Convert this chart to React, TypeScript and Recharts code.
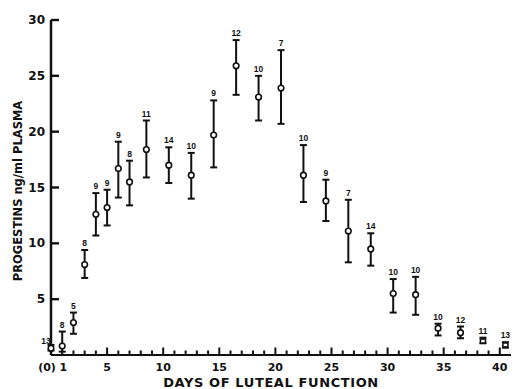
import React from 'react';
import { ScatterChart, Scatter, ErrorBar, XAxis, YAxis, Label } from 'recharts';

// plasma progestins over the luteal phase, mean with range bars and n per point
const days = [0, 1, 2, 3, 4, 5, 6, 7, 8.5, 10.5, 12.5, 14.5, 16.5, 18.5, 20.5, 22.5, 24.5, 26.5, 28.5, 30.5, 32.5, 34.5, 36.5, 38.5, 40.5];
const means = [0.6, 0.8, 2.9, 8.1, 12.6, 13.2, 16.7, 15.5, 18.4, 17.0, 16.1, 19.7, 25.9, 23.1, 23.9, 16.1, 13.8, 11.1, 9.5, 5.5, 5.4, 2.4, 2.0, 1.25, 0.9];
const uppers = [0.9, 2.1, 3.8, 9.4, 14.5, 14.8, 19.1, 17.4, 21.0, 18.6, 18.1, 22.8, 28.2, 25.0, 27.3, 18.8, 15.7, 13.9, 10.9, 6.8, 7.0, 2.8, 2.55, 1.55, 1.15];
const lowers = [0.4, 0.3, 1.9, 6.9, 10.7, 11.6, 14.1, 13.4, 15.9, 15.4, 14.0, 16.8, 23.3, 21.0, 20.7, 13.7, 12.0, 8.3, 8.0, 3.8, 3.6, 1.75, 1.5, 1.05, 0.65];
const counts = [13, 8, 5, 8, 9, 9, 9, 8, 11, 14, 10, 9, 12, 10, 7, 10, 9, 7, 14, 10, 10, 10, 12, 11, 13];

const yTicks = [5, 10, 15, 20, 25, 30];
const xTicks = Array.from({ length: 41 }, (_, i) => i);

const INK = '#111';
const FONT = '"DejaVu Sans", sans-serif';
const TICK_MARGIN = 8;

const points = days.map((d, i) => ({
  day: d,
  y: means[i],
  err: [means[i] - lowers[i], uppers[i] - means[i]],
  square: d > 38,
}));

const tops = days.map((d, i) => ({ day: d, y: uppers[i], n: counts[i] }));

// tick marks point into the plot, so they are drawn as marks sitting on the axes
const xMarks = xTicks.filter((d) => d > 0).map((d) => ({ day: d, y: 0, major: d % 5 === 0 }));
const yMarks = yTicks.map((v) => ({ day: 0, y: v }));

const XTick = (props: any) => {
  const x = Number(props.x);
  const y = Number(props.y);
  const v = props.payload.value;
  let label = '';
  if (v === 0) label = '(0)';
  else if (v === 1 || v % 5 === 0) label = String(v);
  if (!label) return <g />;
  return (
    <text
      x={v === 0 ? x - 4 : x + (v === 1 ? 1 : 0)}
      y={y - TICK_MARGIN + 12}
      textAnchor="middle"
      dominantBaseline="central"
      fontFamily={FONT}
      fontWeight="bold"
      fontSize={11}
      fill={INK}
    >
      {label}
    </text>
  );
};

const YTick = (props: any) => {
  const x = Number(props.x);
  const y = Number(props.y);
  return (
    <text
      x={x + TICK_MARGIN - 6}
      y={y}
      textAnchor="end"
      dominantBaseline="central"
      fontFamily={FONT}
      fontWeight="bold"
      fontSize={12}
      fill={INK}
    >
      {props.payload.value}
    </text>
  );
};

const XMark = (props: any) => {
  const { cx, cy, payload } = props;
  const len = payload.major ? 7.5 : 4.5;
  return <rect x={cx - 1} y={cy - len} width={2} height={len} fill={INK} />;
};

const YMark = (props: any) => {
  const { cx, cy } = props;
  return <rect x={cx} y={cy - 1.2} width={8} height={2.4} fill={INK} />;
};

const Marker = (props: any) => {
  const { cx, cy, payload } = props;
  if (payload.square) {
    return <rect x={cx - 2.5} y={cy - 2} width={5} height={4} fill="#fff" stroke={INK} strokeWidth={1.6} />;
  }
  return <circle cx={cx} cy={cy} r={2.8} fill="#fff" stroke={INK} strokeWidth={1.6} />;
};

const CountLabel = (props: any) => {
  const { cx, cy, payload } = props;
  const first = payload.day === 0;
  return (
    <text
      x={cx + (first ? -5 : 0)}
      y={cy + (first ? -1 : -4)}
      textAnchor="middle"
      fontFamily='"Liberation Sans", Arial, sans-serif'
      fontWeight="bold"
      fontSize={8.5}
      fill={INK}
    >
      {payload.n}
    </text>
  );
};

export default function App() {
  return (
    <div style={{ position: 'absolute', left: 0, top: 0, background: '#fff' }}>
      <ScatterChart width={514} height={389} margin={{ top: 20, right: 3, bottom: 0, left: 0 }}>
        <XAxis
          type="number"
          dataKey="day"
          domain={[0, 41]}
          ticks={xTicks}
          interval={0}
          tickLine={false}
          tickSize={0}
          tickMargin={TICK_MARGIN}
          tick={<XTick />}
          axisLine={{ stroke: INK, strokeWidth: 2.2 }}
          height={34}
        >
          <Label
            value="DAYS OF LUTEAL FUNCTION"
            position="insideBottom"
            offset={2}
            dx={-10}
            fill={INK}
            fontFamily={FONT}
            fontWeight="bold"
            fontSize={13}
            letterSpacing={0.6}
          />
        </XAxis>
        <YAxis
          type="number"
          dataKey="y"
          domain={[0, 30]}
          ticks={yTicks}
          interval={0}
          tickLine={false}
          tickSize={0}
          tickMargin={TICK_MARGIN}
          tick={<YTick />}
          axisLine={{ stroke: INK, strokeWidth: 2.5 }}
          width={51}
        >
          <Label
            content={(p: any) => {
              const vb = p.viewBox;
              const cx = 18;
              const cy = vb.y + vb.height / 2 + 3.5;
              return (
                <text
                  x={cx}
                  y={cy}
                  transform={`rotate(-90 ${cx} ${cy})`}
                  textAnchor="middle"
                  dominantBaseline="central"
                  fontFamily={FONT}
                  fontWeight="bold"
                  fontSize={11.5}
                  fill={INK}
                >
                  PROGESTINS ng/ml PLASMA
                </text>
              );
            }}
          />
        </YAxis>
        <Scatter data={xMarks} dataKey="y" shape={<XMark />} isAnimationActive={false} />
        <Scatter data={yMarks} dataKey="y" shape={<YMark />} isAnimationActive={false} />
        <Scatter data={points} dataKey="y" shape={<Marker />} isAnimationActive={false}>
          <ErrorBar dataKey="err" direction="y" width={3.5} stroke={INK} strokeWidth={2} isAnimationActive={false} />
        </Scatter>
        <Scatter data={tops} dataKey="y" shape={<CountLabel />} isAnimationActive={false} />
      </ScatterChart>
    </div>
  );
}
